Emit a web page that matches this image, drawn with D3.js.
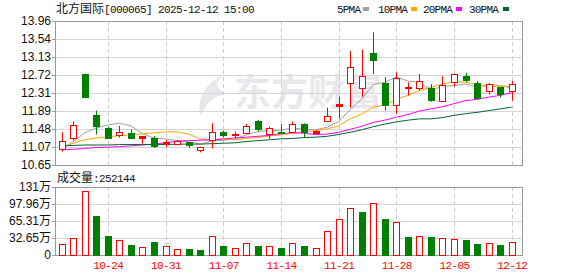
<!DOCTYPE html>
<html>
<head>
<meta charset="utf-8">
<script src="https://cdn.jsdelivr.net/npm/d3@7"></script>
<style>
body { margin: 0; background: #fff; }
</style>
</head>
<body>
<script>
var width = 578, height = 276
var left = 55, right = 522
var top1 = 21, bottom1 = 165, top2 = 187, bottom2 = 255

var dates = ["10-20","10-21","10-22","10-23","10-24","10-27","10-28","10-29","10-30","10-31",
    "11-03","11-04","11-05","11-06","11-07","11-10","11-11","11-12","11-13","11-14",
    "11-17","11-18","11-19","11-20","11-21","11-24","11-25","11-26","11-27","11-28",
    "12-01","12-02","12-03","12-04","12-05","12-08","12-09","12-10","12-11","12-12"]
var xLabels = ["10-24","10-31","11-07","11-14","11-21","11-28","12-05","12-12"]

var opens = [11.02,11.26,12.75,11.81,11.49,11.35,11.39,11.26,11.28,11.14,
    11.14,11.17,11.00,11.23,11.42,11.35,11.39,11.67,11.37,11.42,
    11.42,11.59,11.39,11.66,12.01,12.53,12.42,13.23,12.54,12.03,
    12.41,12.42,12.43,12.12,12.55,12.70,12.53,12.35,12.45,12.35]
var closes = [11.21,11.58,12.22,11.55,11.28,11.41,11.28,11.31,11.08,11.19,
    11.21,11.10,11.07,11.41,11.33,11.36,11.55,11.47,11.50,11.38,
    11.59,11.41,11.44,11.78,12.06,12.90,12.70,13.06,12.03,12.65,
    12.44,12.59,12.14,12.49,12.74,12.61,12.20,12.51,12.28,12.51]
var highs = [11.40,11.65,12.75,11.90,11.53,11.55,11.47,11.31,11.32,11.23,
    11.23,11.18,11.07,11.61,11.44,11.42,11.59,11.69,11.53,11.59,
    11.65,11.61,11.44,11.97,12.22,13.27,13.30,13.70,12.67,12.78,
    12.55,12.74,12.51,12.69,12.75,12.77,12.58,12.53,12.45,12.58]
var lows = [10.96,11.21,12.20,11.35,11.27,11.28,11.26,11.14,11.04,11.06,
    11.14,11.04,10.94,11.03,11.28,11.27,11.39,11.42,11.25,11.37,
    11.39,11.28,11.35,11.66,11.71,11.97,12.22,12.74,11.90,11.83,
    12.25,12.36,12.10,12.12,12.45,12.55,12.20,12.27,12.20,12.13]
// volume in 万
var volumes = [20.5,32,123,75,36.5,28,19,15,25,17,
    11,11.5,9.6,36,17,12.8,22.4,17,16.7,13.4,
    22.4,17,12.8,45.5,68.5,89.6,82.6,99,69,62.8,
    34.6,36.5,34.6,32.6,30,28.8,21,22.4,19,25.2144]

var ma5 = [11.01,11.19,11.39,11.50,11.57,11.61,11.55,11.37,11.27,11.25,
    11.21,11.18,11.13,11.20,11.22,11.25,11.34,11.42,11.44,11.45,
    11.50,11.47,11.46,11.52,11.65,11.92,12.17,12.50,12.55,12.67,
    12.58,12.55,12.37,12.46,12.48,12.51,12.44,12.51,12.47,12.42]
var ma10 = [11.05,11.15,11.23,11.27,11.30,11.32,11.345,11.365,11.39,11.41,
    11.41,11.36,11.25,11.23,11.24,11.23,11.26,11.28,11.32,11.34,
    11.38,11.41,11.44,11.48,11.55,11.71,11.82,11.98,12.03,12.16,
    12.25,12.36,12.43,12.51,12.57,12.55,12.50,12.44,12.47,12.45]
var ma20 = [11.00,11.01,11.03,11.05,11.06,11.07,11.09,11.11,11.13,11.16,
    11.20,11.21,11.22,11.23,11.25,11.27,11.29,11.31,11.33,11.37,
    11.39,11.38,11.35,11.36,11.40,11.47,11.54,11.63,11.68,11.75,
    11.81,11.89,11.94,11.99,12.06,12.13,12.16,12.21,12.25,12.31]
var ma30 = [11.09,11.10,11.11,11.11,11.11,11.12,11.12,11.12,11.12,11.12,
    11.13,11.13,11.13,11.14,11.15,11.16,11.19,11.21,11.23,11.25,
    11.26,11.28,11.29,11.31,11.35,11.40,11.46,11.53,11.59,11.64,
    11.68,11.71,11.71,11.74,11.79,11.83,11.86,11.90,11.94,11.98]

var yLabels = ["10.65","11.07","11.48","11.89","12.31","12.72","13.13","13.54","13.96"]
var volLabels = ["0","32.65万","65.31万","97.96万","131万"]
var volTicks = [0, 32.65, 65.31, 97.96, 130.6]

var red = "#ff0000", green = "#008000"
var maColors = ["#a0a0a0", "#ffa500", "#ff00ff", "#006633"]
var maNames = ["5PMA", "10PMA", "20PMA", "30PMA"]

var svg = d3.select("body").append("svg")
    .attr("width", width).attr("height", height)
    .style("font-family", "'Liberation Sans', Arial, sans-serif")

var x = d3.scalePoint().domain(dates).range([61.7, 511.7])
var y = d3.scaleLinear().domain([10.65, 13.96]).range([bottom1, top1])
var yv = d3.scaleLinear().domain([0, 130.6]).range([bottom2, top2])
var yTickVals = d3.range(9).map(i => 10.65 + i * 3.31 / 8)

// watermark
var wm = svg.append("g").attr("fill", "#e8e8ec")
wm.append("path")
    .attr("d", "M224,75 C206,82 195,100 201,116 C205,104 213,97 227,93 C216,90 214,82 224,75 Z")
wm.append("text").attr("x", 234).attr("y", 106)
    .style("font-family", "'Noto Sans CJK SC'").style("font-size", "37px").style("font-weight", "bold")
    .text("东方财富")

// title
var title = svg.append("text").attr("x", 56).attr("y", 13).attr("fill", "#111")
title.append("tspan").style("font-family", "'Noto Sans CJK SC'").style("font-size", "12px").text("北方国际")
title.append("tspan").style("font-family", "'Liberation Mono', monospace").style("font-size", "11px")
    .style("letter-spacing", "-0.6px").text("[000065] 2025-12-12 15:00")

// legend
var legX = [337, 378, 423, 469], legSq = [363, 411, 456, 503]
maNames.forEach(function(n, i) {
    svg.append("text").attr("x", legX[i]).attr("y", 13).attr("fill", "#111")
        .style("font-family", "'Liberation Mono', monospace").style("font-size", "11px")
        .style("letter-spacing", "-0.8px").text(n)
    svg.append("rect").attr("x", legSq[i]).attr("y", 7).attr("width", 6).attr("height", 4)
        .attr("fill", maColors[i])
})

// grids
svg.append("g").attr("transform", "translate(" + left + ",0)")
    .call(d3.axisLeft(y).tickValues(yTickVals.slice(1, 8)).tickFormat("").tickSize(-(right - left)))
    .call(g => g.select(".domain").remove())
    .selectAll("line").attr("stroke", "#d6d6d6")
svg.append("g").attr("transform", "translate(" + left + ",0)")
    .call(d3.axisLeft(yv).tickValues(volTicks.slice(1, 4)).tickFormat("").tickSize(-(right - left)))
    .call(g => g.select(".domain").remove())
    .selectAll("line").attr("stroke", "#d6d6d6")

var vg = svg.append("g")
xLabels.forEach(function(d) {
    var xx = Math.round(x(d)) + 0.5
    vg.append("line").attr("x1", xx).attr("x2", xx).attr("y1", top1).attr("y2", bottom1)
    vg.append("line").attr("x1", xx).attr("x2", xx).attr("y1", top2).attr("y2", bottom2)
})
vg.selectAll("line").attr("stroke", "#cccccc").attr("stroke-dasharray", "4,3")

// axes
svg.append("g").attr("transform", "translate(" + left + ",0)")
    .call(d3.axisLeft(y).tickValues(yTickVals).tickFormat((d, i) => yLabels[i]).tickSize(3).tickPadding(1))
    .call(g => g.select(".domain").remove())
    .call(g => g.selectAll("line").attr("stroke", "#999"))
    .call(g => g.selectAll("text").attr("fill", "#111").style("font-size", "12px")
        .style("font-family", "'Liberation Sans', Arial, sans-serif"))
svg.append("g").attr("transform", "translate(" + left + ",0)")
    .call(d3.axisLeft(yv).tickValues(volTicks).tickFormat((d, i) => volLabels[i]).tickSize(3).tickPadding(1))
    .call(g => g.select(".domain").remove())
    .call(g => g.selectAll("line").attr("stroke", "#999"))
    .call(g => g.selectAll("text").attr("fill", "#111").style("font-size", "12px")
        .style("font-family", "'Liberation Sans', 'Noto Sans CJK SC', sans-serif"))
svg.append("g").attr("transform", "translate(0," + bottom2 + ")")
    .call(d3.axisBottom(x).tickValues(xLabels).tickSize(0).tickPadding(6))
    .call(g => g.select(".domain").remove())
    .call(g => g.selectAll("text").attr("fill", red).style("font-size", "11px")
        .style("letter-spacing", "-0.6px")
        .style("font-family", "'Liberation Mono', monospace"))

// frames
svg.append("rect").attr("x", left + 0.5).attr("y", top1 + 0.5)
    .attr("width", right - left).attr("height", bottom1 - top1)
    .attr("fill", "none").attr("stroke", "#999")
svg.append("rect").attr("x", left + 0.5).attr("y", top2 + 0.5)
    .attr("width", right - left).attr("height", bottom2 - top2)
    .attr("fill", "none").attr("stroke", "#999")

// volume caption
var vt = svg.append("text").attr("x", 57).attr("y", 182).attr("fill", "#111")
vt.append("tspan").style("font-family", "'Noto Sans CJK SC'").style("font-size", "12px").text("成交量")
vt.append("tspan").style("font-family", "'Liberation Mono', monospace").style("font-size", "11px")
    .style("letter-spacing", "-0.6px").text(":" + Math.round(volumes[volumes.length - 1] * 10000))

// MA lines
var maData = [ma5, ma10, ma20, ma30]
maData.forEach(function(arr, k) {
    svg.append("path").datum(arr)
        .attr("fill", "none").attr("stroke", maColors[k]).attr("stroke-width", 1)
        .attr("d", d3.line().x((d, i) => x(dates[i])).y(d => y(d)))
})

// candles
var bw = 7
var cg = svg.append("g")
dates.forEach(function(d, i) {
    var cx = Math.round(x(d))
    var o = opens[i], c = closes[i]
    var up = c >= o
    var yTop = Math.round(y(Math.max(o, c))), yBot = Math.round(y(Math.min(o, c)))
    var col = up ? red : green
    if (yBot - yTop < 1) yBot = yTop + 1
    if (up) {
        cg.append("line").attr("x1", cx + 0.5).attr("x2", cx + 0.5)
            .attr("y1", y(highs[i])).attr("y2", yTop).attr("stroke", col)
        cg.append("line").attr("x1", cx + 0.5).attr("x2", cx + 0.5)
            .attr("y1", yBot).attr("y2", y(lows[i])).attr("stroke", col)
        if (yBot - yTop <= 2) {
            cg.append("rect").attr("x", cx - 3).attr("y", yTop).attr("width", bw).attr("height", yBot - yTop + 1)
                .attr("fill", col)
        } else {
            cg.append("rect").attr("x", cx - 3 + 0.5).attr("y", yTop + 0.5).attr("width", bw - 1).attr("height", yBot - yTop)
                .attr("fill", "#fff").attr("stroke", col)
        }
    } else {
        cg.append("line").attr("x1", cx + 0.5).attr("x2", cx + 0.5)
            .attr("y1", y(highs[i])).attr("y2", y(lows[i])).attr("stroke", col)
        cg.append("rect").attr("x", cx - 3).attr("y", yTop).attr("width", bw).attr("height", yBot - yTop + 1)
            .attr("fill", col)
    }
})

// volume bars, coloured by change against the previous close
var vbg = svg.append("g")
dates.forEach(function(d, i) {
    var cx = Math.round(x(d))
    var prev = i > 0 ? closes[i - 1] : opens[0]
    var up = closes[i] >= prev
    var yt = Math.round(yv(volumes[i]))
    if (up) {
        vbg.append("rect").attr("x", cx - 3 + 0.5).attr("y", yt + 0.5)
            .attr("width", bw - 1).attr("height", bottom2 - yt)
            .attr("fill", "#fff").attr("stroke", red)
    } else {
        vbg.append("rect").attr("x", cx - 3).attr("y", yt)
            .attr("width", bw).attr("height", bottom2 - yt + 1)
            .attr("fill", green)
    }
})
</script>
</body>
</html>
